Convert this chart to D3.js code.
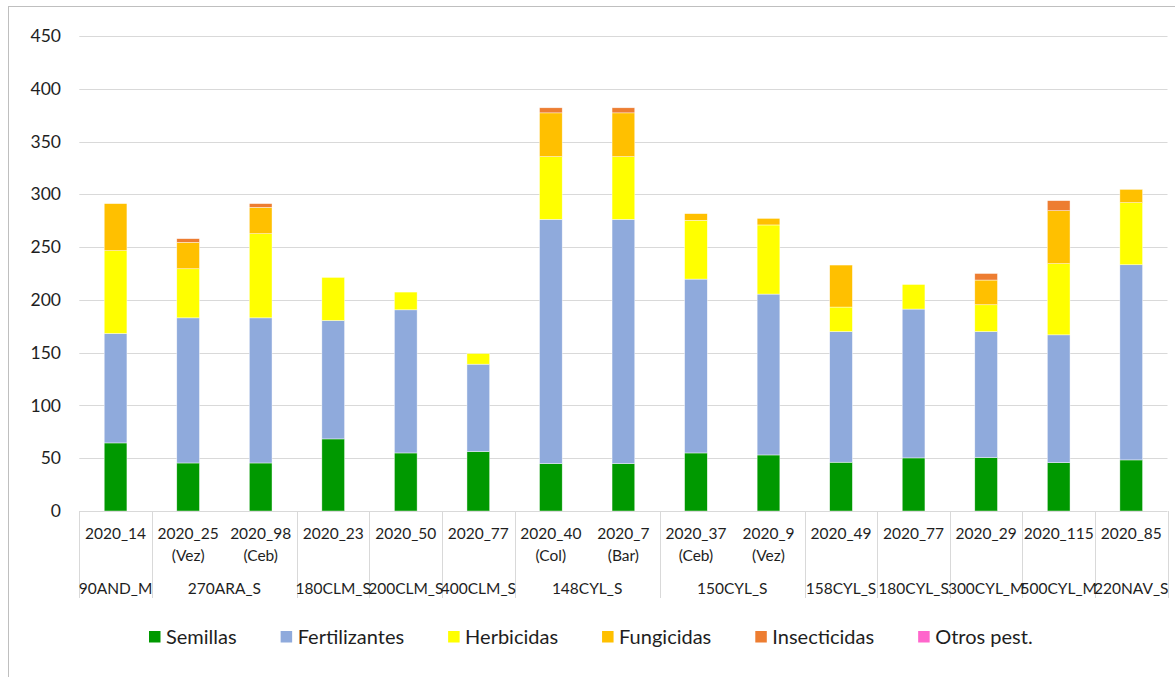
<!DOCTYPE html>
<html>
<head>
<meta charset="utf-8">
<script src="https://cdn.jsdelivr.net/npm/d3@7"></script>
<style>
  html, body { margin: 0; padding: 0; background: #fff; }
  svg { display: block; }
  text { font-family: Lato, "Liberation Sans", sans-serif; fill: #1e1e1e; }
</style>
</head>
<body>
<svg id="chart" width="1175" height="677"></svg>
<script>
// ---- data ----
const categories = ["2020_14","2020_25","2020_98","2020_23","2020_50","2020_77","2020_40","2020_7","2020_37","2020_9","2020_49","2020_77","2020_29","2020_115","2020_85"];
const subLabels  = ["","(Vez)","(Ceb)","","","","(Col)","(Bar)","(Ceb)","(Vez)","","","","",""];
const groupNames = ["90AND_M","270ARA_S","180CLM_S","200CLM_S","400CLM_S","148CYL_S","150CYL_S","158CYL_S","180CYL_S","300CYL_M","500CYL_M","220NAV_S"];
const groupSizes = [1,2,1,1,1,2,2,1,1,1,1,1];

const seriesNames = ["Semillas","Fertilizantes","Herbicidas","Fungicidas","Insecticidas","Otros pest."];
const semillas      = [64.5, 45.5, 45.5, 68.3, 55.0, 56.3, 44.9, 44.9, 55.0, 53.1, 46.2, 50.3, 50.6, 45.8, 48.4];
const fertilizantes = [103.7,137.5,137.5,112.2,135.6, 82.8,231.4,231.4,164.7,152.4,123.8,141.0,119.4,121.1,184.9];
const herbicidas    = [78.4, 46.5, 79.7, 40.8, 16.8, 10.1, 59.4, 59.4, 55.6, 65.5, 23.2, 23.3, 25.4, 67.4, 58.8];
const fungicidas    = [44.6, 25.0, 25.0,  0.0,  0.0,  0.0, 41.5, 41.5,  6.4,  6.2, 39.8,  0.0, 23.4, 50.2, 12.6];
const insecticidas  = [ 0.0,  3.5,  3.5,  0.0,  0.0,  0.0,  4.8,  4.8,  0.0,  0.0,  0.0,  0.0,  6.2,  9.5,  0.0];
const otros         = [ 0,0,0,0,0,0,0,0,0,0,0,0,0,0,0];
const seriesColors  = ["#009900","#8faadc","#ffff00","#ffc000","#ed7d31","#ff66cc"];
const yTicks = [0,50,100,150,200,250,300,350,400,450];

// ---- build table ----
const seriesValues = [semillas, fertilizantes, herbicidas, fungicidas, insecticidas, otros];
const rows = categories.map((c, i) => {
  const r = { idx: i };
  seriesNames.forEach((s, k) => r[s] = seriesValues[k][i]);
  return r;
});
const stacked = d3.stack().keys(seriesNames)(rows);

// ---- layout ----
const svg = d3.select("#chart");
const W = 1175, H = 677;
const plot = { left: 79.3, right: 1167.5, top: 36, bottom: 511 };

svg.append("rect")
  .attr("x", 8.5).attr("y", 6.5)
  .attr("width", W + 10).attr("height", H + 10)
  .attr("fill", "#fff").attr("stroke", "#bfbfbf").attr("stroke-width", 1);

const x = d3.scaleBand().domain(d3.range(categories.length))
  .range([plot.left, plot.right]).paddingInner(0).paddingOuter(0);
const y = d3.scaleLinear().domain([0, 450]).range([plot.bottom, plot.top]);
const barW = x.bandwidth() * 0.313;

// gridlines
svg.append("g")
  .selectAll("line").data(yTicks.filter(t => t > 0)).join("line")
  .attr("x1", plot.left).attr("x2", plot.right)
  .attr("y1", d => Math.round(y(d)) + 0.5).attr("y2", d => Math.round(y(d)) + 0.5)
  .attr("stroke", "#d9d9d9").attr("stroke-width", 1);

// y axis labels
const yAxis = d3.axisLeft(y).tickValues(yTicks).tickSize(0).tickPadding(0);
const gy = svg.append("g").attr("transform", `translate(61,0)`).call(yAxis);
gy.select(".domain").remove();
gy.selectAll("text").style("font-size", "17.5px").attr("font-family", null).style("fill", "#1e1e1e");

// bars
svg.append("g")
  .selectAll("g").data(stacked).join("g")
  .attr("fill", (d, i) => seriesColors[i])
  .selectAll("rect").data(d => d.filter(p => p[1] - p[0] > 0)).join("rect")
  .attr("x", d => x(d.data.idx) + (x.bandwidth() - barW) / 2)
  .attr("width", barW)
  .attr("y", d => y(d[1]))
  .attr("height", d => y(d[0]) - y(d[1]))
  .attr("stroke", "#ffffff").attr("stroke-width", 0.6).attr("stroke-opacity", 0.7);

// x axis baseline
svg.append("line")
  .attr("x1", plot.left).attr("x2", plot.right)
  .attr("y1", plot.bottom + 0.5).attr("y2", plot.bottom + 0.5)
  .attr("stroke", "#d9d9d9").attr("stroke-width", 1);

// group dividers
const boundaries = [0];
groupSizes.forEach(s => boundaries.push(boundaries[boundaries.length - 1] + s));
svg.append("g").selectAll("line").data(boundaries).join("line")
  .attr("x1", d => Math.round(d === categories.length ? plot.right : x(d)) + 0.5)
  .attr("x2", d => Math.round(d === categories.length ? plot.right : x(d)) + 0.5)
  .attr("y1", plot.bottom).attr("y2", 598)
  .attr("stroke", "#d9d9d9").attr("stroke-width", 1);

// category labels
const lab = svg.append("g").style("font-size", "15.5px").attr("text-anchor", "middle");
lab.selectAll("text.cat").data(categories).join("text").attr("class", "cat")
  .attr("x", (d, i) => x(i) + x.bandwidth() / 2).attr("y", 534).attr("dy", "0.35em")
  .text(d => d);
lab.selectAll("text.sub").data(subLabels).join("text").attr("class", "sub")
  .attr("x", (d, i) => x(i) + x.bandwidth() / 2).attr("y", 556).attr("dy", "0.35em")
  .text(d => d);
lab.selectAll("text.grp").data(groupNames).join("text").attr("class", "grp")
  .attr("x", (d, i) => (x(boundaries[i]) + (boundaries[i + 1] === categories.length ? plot.right : x(boundaries[i + 1]))) / 2)
  .attr("y", 589).attr("dy", "0.35em")
  .text(d => d);

// legend
const leg = svg.append("g");
let lx = 149;
seriesNames.forEach((name, i) => {
  leg.append("rect").attr("x", lx).attr("y", 631).attr("width", 11.5).attr("height", 11.5)
    .attr("fill", seriesColors[i]);
  const t = leg.append("text").attr("x", lx + 17).attr("y", 637).attr("dy", "0.35em")
    .style("font-size", "20px").text(name);
  lx += 17 + t.node().getComputedTextLength() + 44;
});
</script>
</body>
</html>
